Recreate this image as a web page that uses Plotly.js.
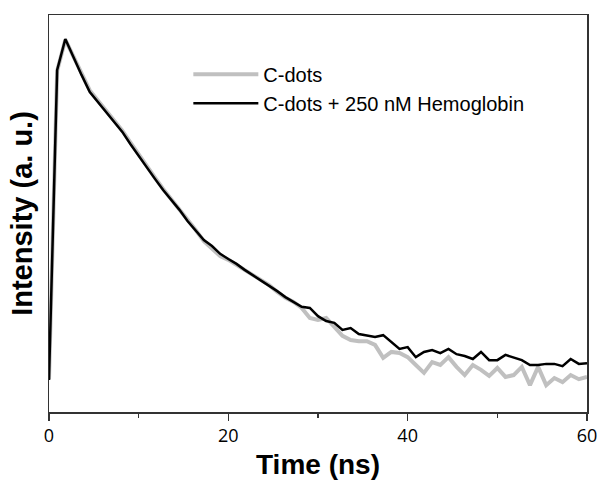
<!DOCTYPE html>
<html>
<head>
<meta charset="utf-8">
<script src="https://cdn.plot.ly/plotly-3.0.1.min.js"></script>
<style>html,body{margin:0;padding:0;background:#fff;}#chart{width:600px;height:482px;}</style>
</head>
<body>
<div id="chart"></div>
<script>
var time = [0.00,0.91,1.82,2.73,3.64,4.55,5.45,6.36,7.27,8.18,9.09,10.00,10.91,11.82,12.73,13.64,14.55,15.45,16.36,17.27,18.18,19.09,20.00,20.91,21.82,22.73,23.64,24.55,25.45,26.36,27.27,28.18,29.09,30.00,30.91,31.82,32.73,33.64,34.55,35.45,36.36,37.27,38.18,39.09,40.00,40.91,41.82,42.73,43.64,44.55,45.45,46.36,47.27,48.18,49.09,50.00,50.91,51.82,52.73,53.64,54.55,55.45,56.36,57.27,58.18,59.09,60.00];
var cdots = [0.088,0.915,0.998,0.952,0.906,0.862,0.835,0.808,0.781,0.754,0.722,0.690,0.657,0.628,0.598,0.571,0.544,0.515,0.488,0.458,0.437,0.418,0.408,0.394,0.381,0.366,0.352,0.340,0.322,0.306,0.295,0.279,0.252,0.247,0.252,0.228,0.204,0.193,0.190,0.190,0.180,0.145,0.161,0.158,0.147,0.126,0.105,0.134,0.126,0.147,0.121,0.099,0.126,0.113,0.097,0.118,0.094,0.099,0.121,0.072,0.121,0.072,0.091,0.080,0.099,0.088,0.094];
var cdotsHb = [0.086,0.917,1.000,0.949,0.903,0.858,0.831,0.804,0.777,0.751,0.718,0.686,0.654,0.625,0.595,0.568,0.542,0.512,0.485,0.461,0.445,0.424,0.410,0.397,0.381,0.367,0.354,0.338,0.324,0.308,0.295,0.282,0.279,0.257,0.244,0.239,0.220,0.225,0.209,0.206,0.201,0.206,0.188,0.169,0.174,0.147,0.161,0.166,0.158,0.169,0.155,0.150,0.142,0.161,0.139,0.139,0.153,0.145,0.139,0.126,0.126,0.129,0.129,0.123,0.142,0.129,0.131];
var seriesNames = ["C-dots", "C-dots + 250 nM Hemoglobin"];
var xTicks = [0, 20, 40, 60];

var traces = [
  {x: time, y: cdots, name: seriesNames[0], type: "scatter", mode: "lines",
   line: {color: "#c0c0c0", width: 4}},
  {x: time, y: cdotsHb, name: seriesNames[1], type: "scatter", mode: "lines",
   line: {color: "#000000", width: 2.5}}
];

var layout = {
  width: 600, height: 482,
  margin: {l: 49, r: 13, t: 15, b: 70},
  paper_bgcolor: "#ffffff", plot_bgcolor: "#ffffff",
  showlegend: true,
  legend: {x: 0.259, y: 0.9, xanchor: "left", yanchor: "top",
           bgcolor: "rgba(0,0,0,0)", borderwidth: 0, itemwidth: 65,
           tracegroupgap: 0,
           font: {family: "Liberation Sans, Arial, sans-serif", size: 20, color: "#000"}},
  xaxis: {
    range: [0, 60], tickvals: xTicks, ticktext: xTicks.map(String),
    ticks: "outside", ticklen: 7, tickwidth: 1.5, tickcolor: "#333",
    minor: {dtick: 10, tick0: 0, ticks: "outside", ticklen: 4, tickwidth: 1.5, tickcolor: "#333"},
    showline: true, linecolor: "#333", linewidth: 1.5, mirror: true,
    showgrid: false, zeroline: false,
    tickfont: {family: "Open Sans, sans-serif", size: 18, color: "#000"},
    title: {text: "Time (ns)", standoff: 8,
            font: {family: "Liberation Sans, Arial, sans-serif", size: 28, color: "#000", weight: "bold"}}
  },
  yaxis: {
    range: [0, 1.0643],
    showticklabels: false, ticks: "",
    showline: true, linecolor: "#333", linewidth: 1.5, mirror: true,
    showgrid: false, zeroline: false,
    title: {text: "Intensity (a. u.)", standoff: 6,
            font: {family: "Liberation Sans, Arial, sans-serif", size: 29, color: "#000", weight: "bold"}}
  }
};

Plotly.newPlot("chart", traces, layout, {displayModeBar: false, staticPlot: true});
</script>
</body>
</html>
